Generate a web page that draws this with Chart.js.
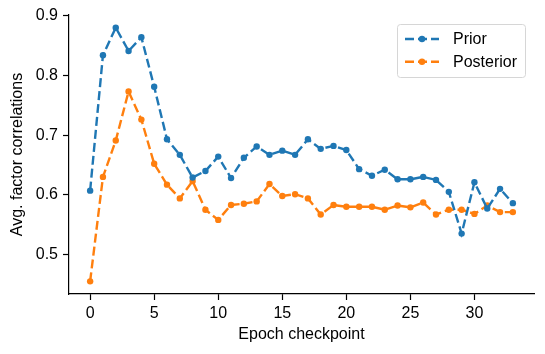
<!DOCTYPE html>
<html>
<head>
<meta charset="utf-8">
<script src="https://cdn.jsdelivr.net/npm/chart.js@4"></script>
<style>
    body { margin: 0; background: #fff; }
    #wrap { width: 545px; height: 354px; }
</style>
</head>
<body>
<div id="wrap"><canvas id="chart" width="545" height="354"></canvas></div>
<script>
// data
const epochs = [0, 1, 2, 3, 4, 5, 6, 7, 8, 9, 10, 11, 12, 13, 14, 15, 16,
    17, 18, 19, 20, 21, 22, 23, 24, 25, 26, 27, 28, 29, 30, 31, 32, 33];
const prior = [0.607, 0.834, 0.880, 0.841, 0.864, 0.781, 0.693, 0.667, 0.629, 0.640,
    0.664, 0.628, 0.662, 0.681, 0.667, 0.674, 0.667, 0.693, 0.677, 0.682,
    0.675, 0.643, 0.632, 0.642, 0.626, 0.626, 0.630, 0.625, 0.605, 0.535,
    0.621, 0.577, 0.610, 0.586];
const posterior = [0.455, 0.630, 0.691, 0.773, 0.726, 0.652, 0.617, 0.594, 0.623, 0.575,
    0.558, 0.583, 0.585, 0.589, 0.618, 0.598, 0.601, 0.594, 0.567, 0.583,
    0.580, 0.580, 0.580, 0.575, 0.582, 0.579, 0.587, 0.567, 0.575, 0.575,
    0.568, 0.582, 0.571, 0.571];
const xTicks = [0, 5, 10, 15, 20, 25, 30];
const yTicks = [0.5, 0.6, 0.7, 0.8, 0.9];
const seriesNames = ['Prior', 'Posterior'];
const seriesColors = ['#1f77b4', '#ff7f0e'];

const FONT = "'Liberation Sans', Arial, sans-serif";
const DASH = [9, 4];

function series(values) {
    return values.map((v, i) => ({ x: epochs[i], y: v }));
}

// legend box drawn inside the plot area, top right
const boxLegend = {
    id: 'boxLegend',
    afterDraw(chart) {
        const ctx = chart.ctx;
        const x = 397, y = 24, w = 128, h = 53;
        ctx.save();
        ctx.beginPath();
        ctx.roundRect(x + 0.5, y + 0.5, w, h, 3);
        ctx.fillStyle = 'rgba(255,255,255,0.8)';
        ctx.fill();
        ctx.strokeStyle = '#d6d6d6';
        ctx.lineWidth = 1;
        ctx.stroke();
        chart.data.datasets.forEach((ds, i) => {
            const ry = y + 15 + i * 22.7;
            ctx.strokeStyle = ds.borderColor;
            ctx.lineWidth = 2.4;
            ctx.setLineDash(DASH);
            ctx.beginPath();
            ctx.moveTo(x + 8, ry);
            ctx.lineTo(x + 42, ry);
            ctx.stroke();
            ctx.setLineDash([]);
            ctx.fillStyle = ds.borderColor;
            ctx.beginPath();
            ctx.arc(x + 25, ry, 3.2, 0, Math.PI * 2);
            ctx.fill();
            ctx.fillStyle = '#000';
            ctx.font = '16px ' + FONT;
            ctx.textBaseline = 'middle';
            ctx.textAlign = 'left';
            ctx.fillText(ds.label, x + 56, ry + 1);
        });
        ctx.restore();
    }
};

const datasets = [prior, posterior].map((vals, i) => ({
    label: seriesNames[i],
    data: series(vals),
    borderColor: seriesColors[i],
    backgroundColor: seriesColors[i],
    borderWidth: 2.4,
    borderDash: DASH,
    pointRadius: 3.2,
    pointBorderWidth: 0,
    pointBackgroundColor: seriesColors[i],
    tension: 0
}));

new Chart(document.getElementById('chart').getContext('2d'), {
    type: 'line',
    data: { datasets: datasets },
    plugins: [boxLegend],
    options: {
        responsive: false,
        animation: false,
        events: [],
        layout: { padding: { top: 15, right: 11, left: 0, bottom: 0 } },
        plugins: {
            legend: { display: false },
            tooltip: { enabled: false }
        },
        scales: {
            x: {
                type: 'linear',
                min: -1.65,
                max: 34.65,
                afterBuildTicks: (s) => { s.ticks = xTicks.map(v => ({ value: v })); },
                afterFit: (s) => { s.height = 60; },
                border: { display: true, color: '#000', width: 1.2 },
                grid: { drawOnChartArea: false, drawTicks: true, tickLength: 6, tickWidth: 1.2, tickColor: '#000' },
                ticks: {
                    color: '#000',
                    padding: 4,
                    maxRotation: 0,
                    font: { family: FONT, size: 16 },
                    callback: (v) => String(v)
                },
                title: {
                    display: true,
                    text: 'Epoch checkpoint',
                    color: '#000',
                    font: { family: FONT, size: 16 },
                    padding: { top: 0, bottom: 10 }
                }
            },
            y: {
                min: 0.4338,
                max: 0.9013,
                afterBuildTicks: (s) => { s.ticks = yTicks.map(v => ({ value: v })); },
                afterFit: (s) => { s.width = 69; },
                border: { display: true, color: '#000', width: 1.2 },
                grid: { drawOnChartArea: false, drawTicks: true, tickLength: 6, tickWidth: 1.2, tickColor: '#000' },
                ticks: {
                    color: '#000',
                    padding: 5,
                    font: { family: FONT, size: 16 },
                    callback: (v) => v.toFixed(1)
                },
                title: {
                    display: true,
                    text: 'Avg. factor correlations',
                    color: '#000',
                    font: { family: FONT, size: 16 },
                    padding: { top: 8, bottom: 0 }
                }
            }
        }
    }
});
</script>
</body>
</html>
